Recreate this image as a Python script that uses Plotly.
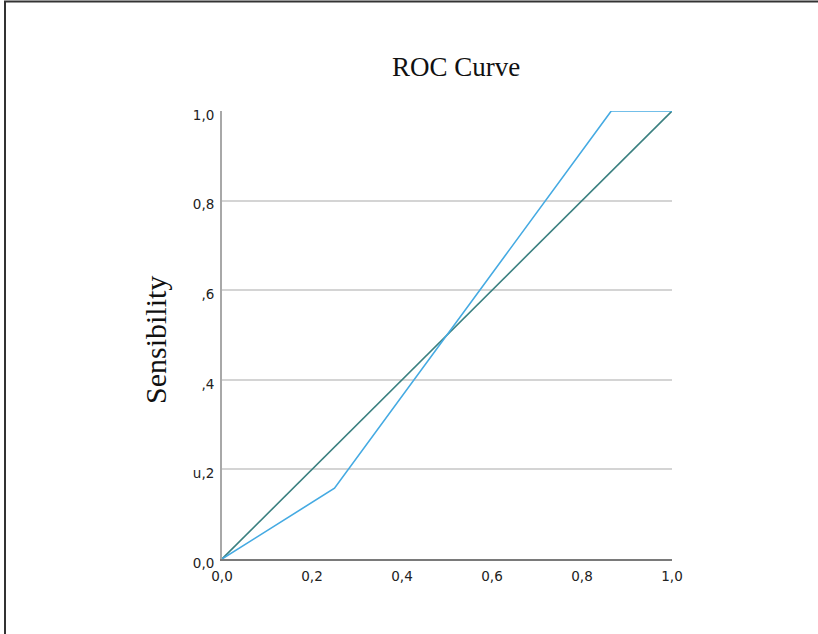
import plotly.graph_objects as go

# Data
roc_fpr = [0.0, 0.25, 0.865, 1.0]
roc_tpr = [0.0, 0.158, 1.0, 1.0]
ref_x = [0.0, 1.0]
ref_y = [0.0, 1.0]

y_tickvals = [0.0, 0.2, 0.4, 0.6, 0.8, 1.0]
y_ticktext = ["0,0", "u,2", ",4", ",6", "0,8", "1,0"]
x_tickvals = [0.0, 0.2, 0.4, 0.6, 0.8, 1.0]
x_ticktext = ["0,0", "0,2", "0,4", "0,6", "0,8", "1,0"]

fig = go.Figure()
fig.add_trace(go.Scatter(x=ref_x, y=ref_y, mode="lines",
                         line=dict(color="#3b8080", width=1.6), showlegend=False))
fig.add_trace(go.Scatter(x=roc_fpr, y=roc_tpr, mode="lines",
                         line=dict(color="#45aae2", width=1.6), showlegend=False))

W, H = 818, 634
L, R, T, B = 222, 146, 111, 75
pw, ph = W - L - R, H - T - B

def px(x):
    return (x - L) / pw

def py(y):
    return (H - B - y) / ph

fig.update_layout(
    width=W, height=H,
    margin=dict(l=L, r=R, t=T, b=B, autoexpand=False),
    paper_bgcolor="white", plot_bgcolor="white",
    font=dict(family="DejaVu Sans, sans-serif", size=13.5, color="#222"),
    title=dict(text="ROC Curve", x=456 / W, xref="container",
               y=1 - 67 / H, yref="container", xanchor="center", yanchor="middle",
               font=dict(family="Liberation Serif, serif", size=27, color="#111")),
    xaxis=dict(range=[0, 1], tickvals=x_tickvals, ticktext=x_ticktext,
               showgrid=False, zeroline=False, showline=True, linecolor="#7a7a7a",
               linewidth=2, ticks="", ticklabelstandoff=4, fixedrange=True),
    yaxis=dict(range=[0, 1], tickvals=y_tickvals, ticktext=y_ticktext,
               showgrid=True, gridcolor="#d4d4d4", gridwidth=1.5,
               zeroline=False, showline=True, linecolor="#a8a8a8",
               linewidth=2, ticks="", ticklabelstandoff=3, ticklabelshift=4,
               fixedrange=True),
    annotations=[dict(text="Sensibility", textangle=-90, x=px(155), y=py(340),
                      xref="paper", yref="paper", showarrow=False,
                      xanchor="center", yanchor="middle",
                      font=dict(family="Liberation Serif, serif", size=30, color="#111"))],
    shapes=[
        dict(type="line", xref="paper", yref="paper", x0=px(5), x1=px(5),
             y0=py(1), y1=py(H + 5), line=dict(color="#333", width=2)),
        dict(type="line", xref="paper", yref="paper", x0=px(4), x1=px(W + 5),
             y0=py(1.5), y1=py(1.5), line=dict(color="#333", width=2)),
    ],
)

fig.write_html("out.html", config={"displayModeBar": False},
               post_script="document.body.style.margin='0';")
